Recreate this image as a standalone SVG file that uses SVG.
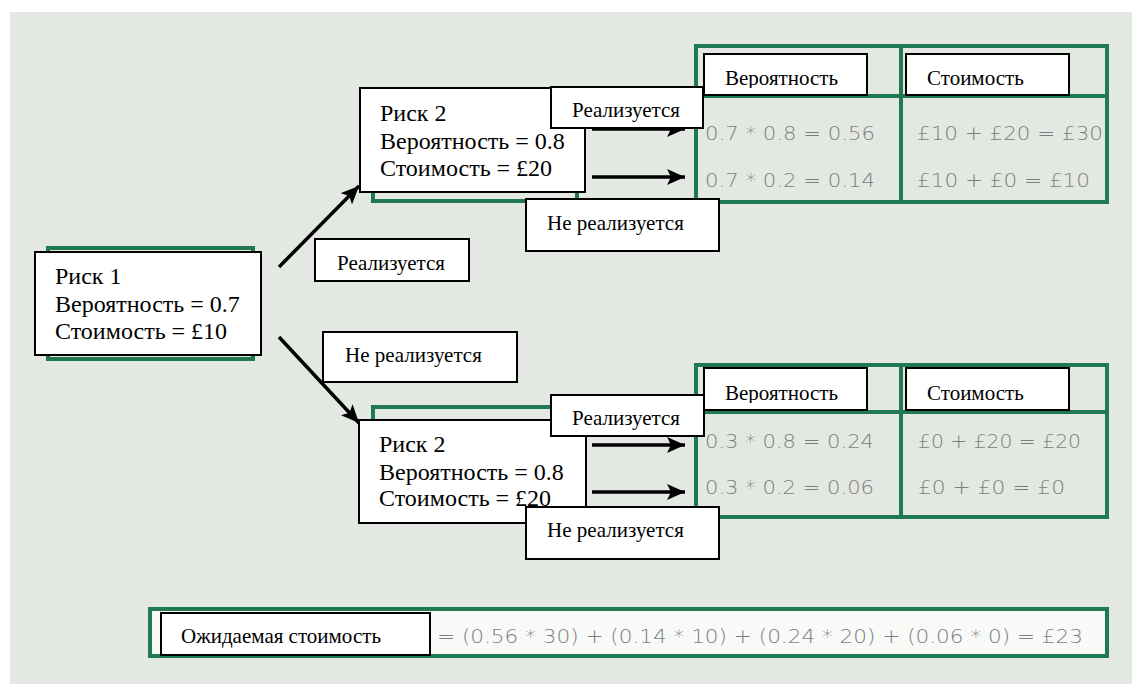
<svg xmlns="http://www.w3.org/2000/svg" width="1132" height="684" viewBox="0 0 1132 684">
<defs>
<style>
.bg{fill:#e3e9e2}
.grn{fill:none;stroke:#1f7a52;stroke-width:4}
.box{fill:#ffffff;stroke:#000000;stroke-width:2}
.rt{font-family:"Liberation Serif","Times New Roman",serif;font-size:24px;fill:#000}
.lt{font-family:"Liberation Serif","Times New Roman",serif;font-size:21px;fill:#000}
.gt{font-family:"DejaVu Sans","Liberation Sans",sans-serif;font-weight:200;font-size:20px;fill:#7d7d7d}
.arr{stroke:#000;stroke-width:3.5;fill:none}
</style>
<marker id="ah" markerUnits="userSpaceOnUse" markerWidth="20" markerHeight="16" refX="18" refY="8" orient="auto">
<path d="M0,0 L18,8 L0,16 L4,8 Z" fill="#000"/>
</marker>
<clipPath id="c1"><rect x="704" y="54" width="163" height="34"/></clipPath>
<clipPath id="c2"><rect x="906" y="54" width="163" height="34"/></clipPath>
<clipPath id="c3"><rect x="704" y="368" width="163" height="35"/></clipPath>
<clipPath id="c4"><rect x="906" y="368" width="163" height="35"/></clipPath>
</defs>
<rect x="0" y="0" width="1132" height="684" fill="#ffffff"/>
<rect class="bg" x="10" y="12" width="1122" height="672"/>

<g id="table-top">
<rect class="grn" x="696" y="46" width="411" height="156"/>
<line class="grn" x1="901" y1="46" x2="901" y2="202"/>
<line class="grn" x1="696" y1="96" x2="1107" y2="96"/>
<rect class="box" x="704" y="54" width="163" height="41"/>
<rect class="box" x="906" y="54" width="163" height="41"/>
<text class="lt" x="725" y="85" clip-path="url(#c1)">Вероятность</text>
<text class="lt" x="927" y="85" clip-path="url(#c2)">Стоимость</text>
<text class="gt" x="705" y="140" textLength="170" lengthAdjust="spacingAndGlyphs">0.7 * 0.8 = 0.56</text>
<text class="gt" x="917" y="140" textLength="186" lengthAdjust="spacingAndGlyphs">£10 + £20 = £30</text>
<text class="gt" x="705" y="187" textLength="170" lengthAdjust="spacingAndGlyphs">0.7 * 0.2 = 0.14</text>
<text class="gt" x="917" y="187" textLength="173" lengthAdjust="spacingAndGlyphs">£10 + £0 = £10</text>
</g>

<g id="table-bottom">
<rect class="grn" x="696" y="365" width="411" height="152"/>
<line class="grn" x1="901" y1="365" x2="901" y2="517"/>
<line class="grn" x1="696" y1="412" x2="1107" y2="412"/>
<rect class="box" x="704" y="368" width="163" height="42"/>
<rect class="box" x="906" y="368" width="163" height="42"/>
<text class="lt" x="725" y="400" clip-path="url(#c3)">Вероятность</text>
<text class="lt" x="927" y="400" clip-path="url(#c4)">Стоимость</text>
<text class="gt" x="705" y="448" textLength="169" lengthAdjust="spacingAndGlyphs">0.3 * 0.8 = 0.24</text>
<text class="gt" x="918" y="448" textLength="163" lengthAdjust="spacingAndGlyphs">£0 + £20 = £20</text>
<text class="gt" x="705" y="494" textLength="169" lengthAdjust="spacingAndGlyphs">0.3 * 0.2 = 0.06</text>
<text class="gt" x="918" y="494" textLength="147" lengthAdjust="spacingAndGlyphs">£0 + £0 = £0</text>
</g>

<g id="risk1">
<rect class="grn" x="48" y="248" width="205" height="111"/>
<rect class="box" x="35" y="252" width="226" height="103"/>
<text class="rt" x="55" y="284">Риск 1</text>
<text class="rt" x="55" y="312">Вероятность = 0.7</text>
<text class="rt" x="55" y="339">Стоимость = £10</text>
</g>

<g id="risk2-top">
<rect class="grn" x="373" y="96" width="204" height="105"/>
<rect class="box" x="360" y="88" width="225" height="104"/>
<text class="rt" x="380" y="121">Риск 2</text>
<text class="rt" x="380" y="149">Вероятность = 0.8</text>
<text class="rt" x="380" y="176">Стоимость = £20</text>
</g>

<g id="risk2-bottom">
<rect class="grn" x="373" y="407" width="204" height="105"/>
<rect class="box" x="359" y="420" width="227" height="103"/>
<text class="rt" x="379" y="452">Риск 2</text>
<text class="rt" x="379" y="480">Вероятность = 0.8</text>
<text class="rt" x="379" y="506">Стоимость = £20</text>
</g>

<g id="connectors">
<line class="arr" x1="279" y1="267" x2="359" y2="186" marker-end="url(#ah)"/>
<line class="arr" x1="279" y1="337" x2="359" y2="423" marker-end="url(#ah)"/>
<line class="arr" x1="592" y1="129" x2="685" y2="129" marker-end="url(#ah)"/>
<line class="arr" x1="592" y1="177" x2="685" y2="177" marker-end="url(#ah)"/>
<line class="arr" x1="592" y1="445" x2="685" y2="445" marker-end="url(#ah)"/>
<line class="arr" x1="592" y1="492" x2="685" y2="492" marker-end="url(#ah)"/>
</g>

<g id="label-r1-yes">
<rect class="box" x="315" y="239" width="154" height="42"/>
<text class="lt" x="337" y="270">Реализуется</text>
</g>
<g id="label-r1-no">
<rect class="box" x="323" y="332" width="194" height="50"/>
<text class="lt" x="345" y="362">Не реализуется</text>
</g>
<g id="label-top-yes">
<rect class="box" x="551" y="87" width="152" height="41"/>
<text class="lt" x="572" y="117">Реализуется</text>
</g>
<g id="label-top-no">
<rect class="box" x="526" y="199" width="193" height="52"/>
<text class="lt" x="547" y="230">Не реализуется</text>
</g>
<g id="label-bottom-yes">
<rect class="box" x="551" y="395" width="153" height="41"/>
<text class="lt" x="572" y="425">Реализуется</text>
</g>
<g id="label-bottom-no">
<rect class="box" x="526" y="507" width="193" height="52"/>
<text class="lt" x="547" y="537">Не реализуется</text>
</g>

<g id="expected">
<rect x="150" y="609" width="957" height="47" fill="#f8faf8" stroke="#1f7a52" stroke-width="4"/>
<rect class="box" x="161" y="613" width="269" height="42"/>
<text class="lt" x="181" y="643">Ожидаемая стоимость</text>
<text class="gt" x="437" y="643" font-size="24" textLength="646" lengthAdjust="spacingAndGlyphs">= (0.56 * 30) + (0.14 * 10) + (0.24 * 20) + (0.06 * 0) = £23</text>
</g>
</svg>
